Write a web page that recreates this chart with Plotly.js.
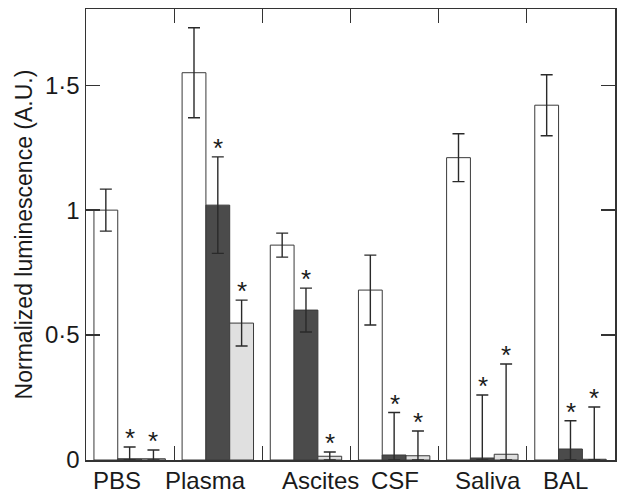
<!DOCTYPE html>
<html><head><meta charset="utf-8">
<script src="https://cdn.plot.ly/plotly-3.0.1.min.js"></script>
<style>html,body{margin:0;padding:0;background:#fff}#chart{width:624px;height:498px}</style>
</head><body><div id="chart"></div>
<script>
const categories = ['PBS','Plasma','Ascites','CSF','Saliva','BAL'];
const labelShift = [-0.15, -0.14, 0.16, 0.0, 0.06, -0.06];
const whiteVals = [1.00, 1.55, 0.86, 0.68, 1.21, 1.42];
const whiteErr  = [0.084, 0.18, 0.048, 0.14, 0.096, 0.122];
const darkVals  = [0.005, 1.02, 0.60, 0.02, 0.008, 0.044];
const darkErr   = [0.047, 0.193, 0.088, 0.17, 0.252, 0.113];
const lightVals = [0.005, 0.548, 0.015, 0.017, 0.023, 0.003];
const lightErr  = [0.035, 0.092, 0.017, 0.099, 0.361, 0.209];
const darkSig  = [true, true, true, true, true, true];
const lightSig = [true, true, true, true, true, true];
const yTickVals = [0, 0.5, 1, 1.5];
const yTickText = ['0', '0·5', '1', '1·5'];

const FONT = 'Liberation Sans, Arial, Helvetica, sans-serif';
const idx = categories.map((c,i)=>i);
const edge = '#3a3a3a';
function mk(vals, err, fill, off){
  return {
    type:'bar', x: idx, y: vals, width: 0.27, offset: off,
    marker:{color:fill, line:{color:edge, width:1}},
    error_y:{type:'data', symmetric:false, array: err,
      arrayminus: err.map((e,i)=>Math.min(e, vals[i])),
      color:'#2a2a2a', thickness:1.4, width:6},
    showlegend:false, hoverinfo:'none'
  };
}
const traces = [
  mk(whiteVals, whiteErr, '#ffffff', -0.41),
  mk(darkVals, darkErr, '#4b4b4b', -0.14),
  mk(lightVals, lightErr, '#e0e0e0', 0.13)
];
const annotations = [];
function stars(vals, err, sig, center){
  vals.forEach((v,i)=>{
    if(!sig[i]) return;
    annotations.push({x: i+center, y: v+err[i], xref:'x', yref:'y', text:'*',
      showarrow:false, yanchor:'bottom', yshift:-8,
      font:{family:FONT, size:26, color:'#1a1a1a'}});
  });
}
stars(darkVals, darkErr, darkSig, 0.0);
stars(lightVals, lightErr, lightSig, 0.265);
categories.forEach((c,i)=>{
  annotations.push({x: i+labelShift[i], y: 0, xref:'x', yref:'paper', text:c,
    showarrow:false, yanchor:'top', yshift:-5,
    font:{family:FONT, size:24, color:'#1a1a1a'}});
});
const layout = {
  width:624, height:498,
  margin:{l:86, r:9, t:9, b:38},
  paper_bgcolor:'#fff', plot_bgcolor:'#fff',
  barmode:'overlay',
  xaxis:{range:[-0.5,5.5], tickvals:[0.5,1.5,2.5,3.5,4.5], showticklabels:false,
    ticks:'inside', ticklen:14, tickcolor:'#333', tickwidth:1.3,
    showgrid:false, zeroline:false, showline:true, linecolor:'#333', linewidth:1.5, mirror:'ticks'},
  yaxis:{range:[0,1.805], tickvals:yTickVals, ticktext:yTickText,
    ticks:'inside', ticklen:14, tickcolor:'#333', tickwidth:1.3,
    showgrid:false, zeroline:false, showline:true, linecolor:'#333', linewidth:1.5, mirror:'ticks',
    tickfont:{family:FONT, size:24, color:'#1a1a1a'},
    title:{text:'Normalized luminescence (A.U.)', standoff:6,
      font:{family:FONT, size:23, color:'#1a1a1a'}}},
  annotations: annotations
};
Plotly.newPlot('chart', traces, layout, {staticPlot:true});
</script></body></html>
